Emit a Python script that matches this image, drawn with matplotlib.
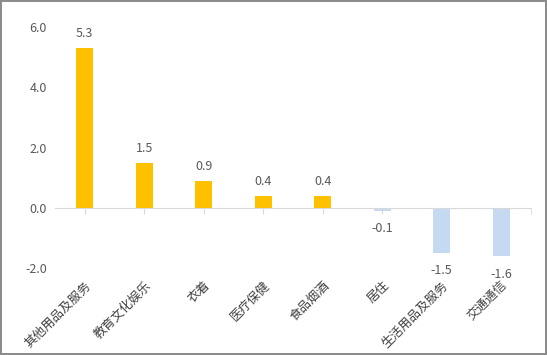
import matplotlib.pyplot as plt

plt.rcParams['font.family'] = ['Noto Sans CJK SC', 'DejaVu Sans']

# data
categories = ['其他用品及服务', '教育文化娱乐', '衣着', '医疗保健', '食品烟酒',
              '居住', '生活用品及服务', '交通通信']
values = [5.3, 1.5, 0.9, 0.4, 0.4, -0.1, -1.5, -1.6]
yticks = [-2.0, 0.0, 2.0, 4.0, 6.0]

pos_color = '#FFC000'
neg_color = '#C5D9F1'
text_color = '#595959'

fig = plt.figure(figsize=(5.47, 3.55), dpi=100)
fig.patch.set_edgecolor('#8c8c8c')
fig.patch.set_linewidth(1.5)
ax = fig.add_axes([0.1006, 0.2225, 0.870, 0.7183])

x = list(range(len(categories)))
colors = [pos_color if v >= 0 else neg_color for v in values]
ax.bar(x, values, width=0.29, color=colors, zorder=2)

# value labels
for xi, v in zip(x, values):
    if v >= 0:
        ax.annotate(f'{v:.1f}', (xi, v), xytext=(0, 6), textcoords='offset points',
                    ha='center', va='bottom', fontsize=9, color=text_color)
    else:
        ax.annotate(f'{v:.1f}', (xi, v), xytext=(0, -8), textcoords='offset points',
                    ha='center', va='top', fontsize=9, color=text_color)

ax.set_xlim(-0.5, len(categories) - 0.5)
ax.set_ylim(-2.25, 6.2)
ax.set_yticks(yticks)
ax.set_yticklabels([f'{t:.1f}' for t in yticks])
ax.tick_params(axis='y', length=0, pad=6, labelsize=9, labelcolor=text_color)

# zero axis line with small ticks
for s in ['top', 'right', 'left']:
    ax.spines[s].set_visible(False)
ax.spines['bottom'].set_position(('data', 0))
ax.spines['bottom'].set_color('#d9d9d9')
ax.set_xticks(x)
ax.set_xticks([len(categories) - 0.5], minor=True)
ax.tick_params(axis='x', which='both', length=4, color='#d9d9d9', labelbottom=False)

# category labels at the bottom of the plot area
sec = ax.secondary_xaxis('bottom')
sec.spines['bottom'].set_visible(False)
sec.set_xticks(x)
sec.set_xticklabels(categories, rotation=45, ha='right', rotation_mode='anchor')
sec.tick_params(length=0, pad=2, labelsize=9, labelcolor='#404040')

fig.savefig('out.png', dpi=100, edgecolor=fig.get_edgecolor())
